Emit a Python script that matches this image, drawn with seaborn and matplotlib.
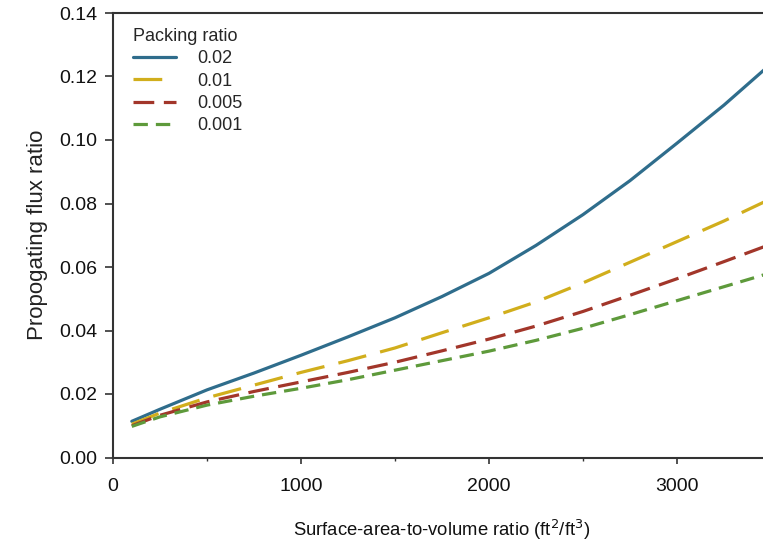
import numpy as np
import pandas as pd
import matplotlib
matplotlib.use("Agg")
import matplotlib.pyplot as plt
from matplotlib.lines import Line2D
from matplotlib.ticker import MultipleLocator, FormatStrFormatter
import seaborn as sns

# ---- data ----
sav = [100, 250, 500, 750, 1000, 1250, 1500, 1750, 2000, 2250, 2500, 2750, 3000, 3250, 3500]
packing_labels = ["0.02", "0.01", "0.005", "0.001"]
flux_002 = [0.0114, 0.0152, 0.0213, 0.0266, 0.0322, 0.0380, 0.0440, 0.0507, 0.0580,
            0.0668, 0.0765, 0.0872, 0.0990, 0.1110, 0.1240]
flux_001 = [0.0105, 0.0140, 0.0188, 0.0228, 0.0268, 0.0305, 0.0345, 0.0393, 0.0440,
            0.0490, 0.0550, 0.0615, 0.0680, 0.0745, 0.0815]
flux_0005 = [0.0100, 0.0133, 0.0175, 0.0208, 0.0238, 0.0268, 0.0300, 0.0336, 0.0373,
             0.0414, 0.0460, 0.0511, 0.0563, 0.0617, 0.0672]
flux_0001 = [0.0098, 0.0128, 0.0165, 0.0193, 0.0218, 0.0245, 0.0275, 0.0305, 0.0335,
             0.0369, 0.0407, 0.0450, 0.0494, 0.0538, 0.0582]

series = {"0.02": flux_002, "0.01": flux_001, "0.005": flux_0005, "0.001": flux_0001}
df = pd.concat(
    [pd.DataFrame({"sav": sav, "flux": v, "Packing ratio": k}) for k, v in series.items()],
    ignore_index=True,
)

palette = {"0.02": "#2f6d8c", "0.01": "#d1ae1c", "0.005": "#a2362a", "0.001": "#5e9a3b"}
dashes = {"0.02": "", "0.01": (9, 4.5), "0.005": (6.5, 3), "0.001": (4.5, 2.5)}

sns.set_style("ticks")
plt.rcParams["font.family"] = ["Liberation Sans", "DejaVu Sans"]

fig = plt.figure(figsize=(7.63, 5.46), dpi=100)
ax = fig.add_axes([113 / 763, 1 - 457.5 / 546, (771 - 113) / 763, (457.5 - 13) / 546])

sns.lineplot(data=df, x="sav", y="flux", hue="Packing ratio", style="Packing ratio",
             hue_order=packing_labels, style_order=packing_labels,
             palette=palette, dashes=dashes, linewidth=2.3, ax=ax, legend=False)

ax.set_xlim(0, 3500)
ax.set_ylim(0, 0.14)
ax.xaxis.set_major_locator(MultipleLocator(1000))
ax.xaxis.set_minor_locator(MultipleLocator(500))
ax.yaxis.set_major_locator(MultipleLocator(0.02))
ax.yaxis.set_major_formatter(FormatStrFormatter("%.2f"))

for s in ["left", "bottom", "top"]:
    ax.spines[s].set_visible(True)
    ax.spines[s].set_color("#333333")
    ax.spines[s].set_linewidth(1.5)
ax.spines["right"].set_visible(False)

ax.tick_params(axis="both", which="major", direction="out", width=1.2,
               colors="#333333", labelsize=14, labelcolor="#111111")
ax.tick_params(axis="x", which="major", length=4.5, pad=10)
ax.tick_params(axis="y", which="major", length=6, pad=5)
ax.tick_params(axis="x", which="minor", direction="out", length=2.5, width=1.0, colors="#333333")

ax.set_xlabel("Surface-area-to-volume ratio (ft$^2$/ft$^3$)", fontsize=13.3, labelpad=17, color="#111111")
ax.set_ylabel("Propogating flux ratio", fontsize=16, labelpad=8, color="#222222")

handles = []
for k in packing_labels:
    h = Line2D([0], [0], color=palette[k], lw=2.3)
    if dashes[k]:
        h.set_dashes(dashes[k])
    handles.append(h)
leg = ax.legend(handles, packing_labels, title="Packing ratio", loc="upper left",
                bbox_to_anchor=(0.03, 0.967), frameon=False, fontsize=13,
                title_fontsize=13, handlelength=2.4, handletextpad=1.2,
                labelspacing=0.3, borderaxespad=0.0, borderpad=0.0)
leg._legend_box.align = "left"

fig.savefig("out.png", dpi=100)
